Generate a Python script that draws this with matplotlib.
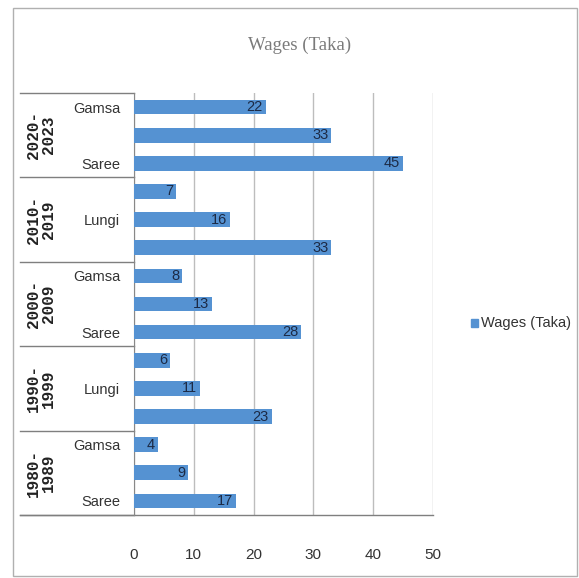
import numpy as np
import matplotlib
matplotlib.use("Agg")
from matplotlib import pyplot as plt
from matplotlib.patches import Rectangle

# data (bottom to top inside each period)
periods = ["1980-\n1989", "1990-\n1999", "2000-\n2009", "2010-\n2019", "2020-\n2023"]
products = ["Saree", "Lungi", "Gamsa"]
saree = [17, 23, 28, 33, 45]
lungi = [9, 11, 13, 16, 33]
gamsa = [4, 6, 8, 7, 22]
ticks = [0, 10, 20, 30, 40, 50]

narrow = "Liberation Sans"

fig = plt.figure(figsize=(5.79, 5.78), dpi=100)
ax = fig.add_axes([134 / 579, 1 - 515 / 578, 299 / 579, 422 / 578])

values = []
labels = []
for i in range(len(periods)):
    for name, ser in zip(products, [saree, lungi, gamsa]):
        values.append(ser[i])
        labels.append(name)
pos = np.arange(len(values))

bars = ax.barh(pos, values, height=0.52, color="#5592d2", zorder=3)
for b, v in zip(bars, values):
    ax.annotate(str(v), (v, b.get_y() + b.get_height() / 2), xytext=(-2, 0),
                textcoords="offset points", ha="right", va="center",
                fontsize=10.5, color="#1c2a45", family=narrow, zorder=4)

ax.set_xlim(0, 50)
ax.set_ylim(-0.5, len(values) - 0.5)
ax.set_xticks(ticks)
ax.set_xticklabels([str(t) for t in ticks], family=narrow, fontsize=11, color="#333333")
ax.tick_params(axis="x", length=0, pad=24)
ax.tick_params(axis="y", length=0, pad=10)
ax.set_yticks(pos)
ax.set_yticklabels([l if k % 2 == 0 else "" for k, l in enumerate(labels)],
                   family=narrow, fontsize=10.5, color="#333333")
ax.xaxis.grid(True, color="#bdbdbd", linewidth=1, zorder=0)
for s in ["top", "right", "bottom"]:
    ax.spines[s].set_visible(False)
ax.spines["left"].set_color("#888888")

# period separators and labels
trans = ax.get_yaxis_transform()
for g in range(len(periods) + 1):
    y = g * 3 - 0.5
    ax.plot([-0.38, 0], [y, y], transform=trans, color="#7f7f7f", lw=1, clip_on=False)
ax.plot([-0.38, 1], [-0.5, -0.5], transform=trans, color="#7f7f7f", lw=1, clip_on=False)
for g, p in enumerate(periods):
    ax.text(-0.31, g * 3 + 1, p, transform=trans, rotation=90, ha="center", va="center",
            family="Liberation Mono", fontweight="bold", fontsize=11.5, color="#222222",
            linespacing=1.0)

fig.text(300 / 579, 1 - 45 / 578, "Wages (Taka)", ha="center", va="center",
         family="Liberation Serif", fontsize=13.5, color="#7a7a7a")

fig.patches.append(Rectangle((471 / 579, 1 - 327 / 578), 7 / 579, 8 / 578,
                             transform=fig.transFigure, color="#5592d2"))
fig.text(481 / 579, 1 - 323 / 578, "Wages (Taka)", ha="left", va="center",
         family=narrow, fontsize=10.5, color="#333333")

fig.patches.append(Rectangle((13 / 579, 2 / 578), 564 / 579, 568 / 578, transform=fig.transFigure,
                             fill=False, edgecolor="#b0b0b0", lw=1))

plt.savefig("out.png", dpi=100)
